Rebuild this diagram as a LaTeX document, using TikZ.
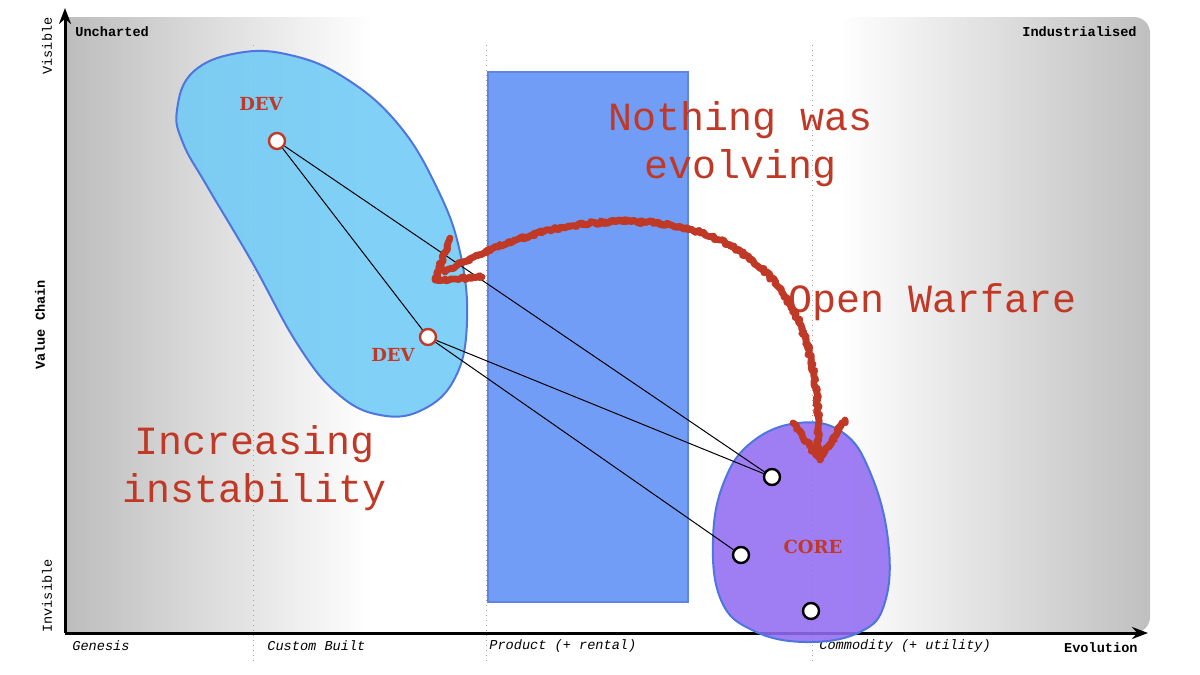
\documentclass[tikz,border=0pt]{standalone}
\usepackage{fontspec}
\setmonofont{Liberation Mono}
\newfontfamily\slabfont{DejaVu Serif}
\usepackage{tikz}
\usetikzlibrary{arrows.meta, decorations.pathmorphing}
\definecolor{wardred}{RGB}{192,57,38}
\definecolor{devblue}{RGB}{112,202,246}
\definecolor{coreviolet}{RGB}{146,108,243}
\definecolor{prodblue}{RGB}{114,157,247}
\definecolor{edgeblue}{RGB}{78,118,222}
\tikzset{
  axis/.style={line width=1.5pt, -{Stealth[length=8pt,width=6pt]}},
  stage/.style={gray!75, dotted, line width=0.5pt},
  cornerlabel/.style={font=\ttfamily\bfseries\fontsize{6.8}{8}\selectfont, inner sep=0pt},
  stagelabel/.style={font=\ttfamily\itshape\fontsize{6.8}{8}\selectfont, anchor=west, inner sep=0pt},
  comp/.style={circle, draw=black, fill=white, line width=1.2pt, minimum size=8pt, inner sep=0pt},
  devcomp/.style={comp, draw=wardred},
  tag/.style={font=\slabfont\bfseries\fontsize{9}{10}\selectfont, text=wardred},
  note/.style={font=\ttfamily\fontsize{20}{24}\selectfont, text=wardred, align=center},
  link/.style={line width=0.5pt},
  blob/.style={draw=edgeblue, line width=1pt, fill opacity=0.88},
  chalk/.style={draw=wardred, line width=3.4pt, line cap=round, line join=round,
    decorate, decoration={random steps, segment length=1.2pt, amplitude=0.9pt}},
}
\begin{document}
\begin{tikzpicture}[x=0.5pt, y=-0.5pt]
  \useasboundingbox (0,0) rectangle (1200,675);

  % background bands
  \shade[left color=gray!52, right color=white] (65,17) rectangle (372,633);
  \shade[left color=white, right color=gray!50, rounded corners=8pt] (838,17) rectangle (1150,633);

  % evolution stages
  \foreach \x in {253,486,812}
    \draw[stage] (\x,45) -- (\x,662);

  % axes
  \coordinate (origin) at (65,633);
  \coordinate (ytop) at (65,8);
  \coordinate (xend) at (1148,633);
  \draw[axis] (origin) -- (ytop);
  \draw[axis] (origin) -- (xend);

  \node[cornerlabel, anchor=west] (unch) at (75,32) {Uncharted};
  \node[cornerlabel, anchor=east] (indu) at (1137,32) {Industrialised};
  \node[cornerlabel, anchor=east] (evol) at (1138,648) {Evolution};
  \node[cornerlabel, rotate=90] (vchain) at (40,325) {Value Chain};
  \node[font=\ttfamily\fontsize{6.8}{8}\selectfont, rotate=90] (vis) at (47,46) {Visible};
  \node[font=\ttfamily\fontsize{6.8}{8}\selectfont, rotate=90] (invis) at (47,596) {Invisible};

  \node[stagelabel] (genesis) at (72,646) {Genesis};
  \node[stagelabel] (custom) at (267,646) {Custom Built};
  \node[stagelabel] (product) at (489,646) {Product (+ rental)};
  \node[stagelabel] (commodity) at (819,646) {Commodity (+ utility)};

  % areas
  \draw[blob, fill=devblue] plot[smooth cycle, tension=0.7] coordinates {
    (177,110) (193,72) (238,53) (290,55) (345,78) (398,124) (437,188)
    (460,252) (467,322) (455,378) (422,410) (380,415) (338,394)
    (298,345) (252,262) (207,186) (183,143)};
  \draw[draw=edgeblue!90, line width=1pt, fill=prodblue] (488,72) rectangle (688,602);
  \draw[blob, fill=coreviolet] plot[smooth cycle, tension=0.7] coordinates {
    (713,540) (724,482) (752,442) (798,423) (842,432) (870,472)
    (888,540) (885,602) (860,632) (805,642) (752,630) (721,600)};

  % components
  \node[devcomp] (dev1) at (277,141) {};
  \node[devcomp] (dev2) at (428,337) {};
  \node[comp] (core1) at (772,477) {};
  \node[comp] (core2) at (741,555) {};
  \node[comp] (core3) at (811,611) {};

  \node[tag] (dev1tag) at (261,104) {DEV};
  \node[tag] (dev2tag) at (393,355) {DEV};
  \node[tag] (coretag) at (813,547) {CORE};

  \path[link]
  (dev1) edge (dev2)
  (dev1) edge (core1)
  (dev2) edge (core1)
  (dev2) edge (core2);

  % annotations
  \node[note] (nothing) at (741,144) {Nothing was\\evolving};
  \node[note] (warfare) at (933,302) {Open Warfare};
  \node[note] (instab) at (255,468) {Increasing\\instability};

  % warfare arrow
  \coordinate (wl) at (445,272);
  \coordinate (wm) at (720,240);
  \coordinate (wr) at (818,452);
  \foreach \w in {3.4pt,2.2pt} {
    \draw[chalk, line width=\w] (wl) .. controls (530,222) and (640,205) .. (wm)
      .. controls (790,275) and (822,340) .. (wr);
    \draw[chalk, line width=\w] (450,238) -- (435,280) -- (482,277);
    \draw[chalk, line width=\w] (793,423) -- (820,460) -- (845,420);
  }
\end{tikzpicture}
\end{document}
